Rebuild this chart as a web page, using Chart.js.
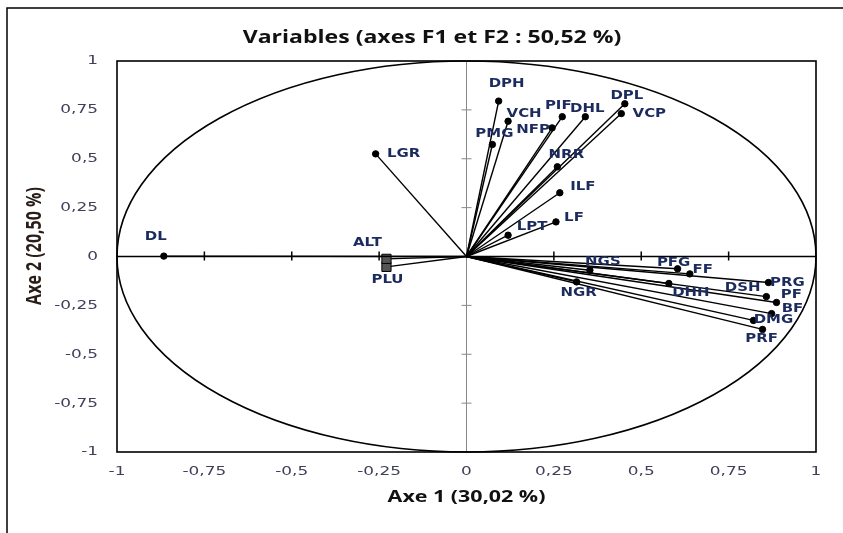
<!DOCTYPE html>
<html>
<head>
<meta charset="utf-8">
<script src="https://cdn.jsdelivr.net/npm/chart.js@4"></script>
<style>
  body { margin: 0; background: #fff; }
  #wrap { width: 843px; height: 533px; }
</style>
</head>
<body>
<div id="wrap"><canvas id="myChart" width="843" height="533"></canvas></div>
<script>
// variables du cercle des corrélations (F1, F2)
const names = ['DPH', 'VCH', 'PMG', 'NFP', 'PIF', 'DHL', 'DPL', 'VCP', 'NRR', 'ILF', 'LF', 'LPT',
  'LGR', 'DL', 'ALT', 'PLU', 'NGS', 'PFG', 'FF', 'NGR', 'DHH', 'PRG', 'PF', 'BF', 'DSH', 'DMG', 'PRF'];
const f1 = [0.092, 0.119, 0.074, 0.245, 0.274, 0.340, 0.453, 0.443, 0.260, 0.267, 0.256, 0.119,
  -0.260, -0.866, -0.229, -0.229, 0.353, 0.604, 0.639, 0.315, 0.579, 0.864, 0.858, 0.887, 0.873, 0.821, 0.847];
const f2 = [0.795, 0.692, 0.573, 0.658, 0.715, 0.715, 0.781, 0.731, 0.459, 0.326, 0.177, 0.109,
  0.525, 0.002, -0.012, -0.053, -0.070, -0.063, -0.089, -0.130, -0.138, -0.133, -0.205, -0.235, -0.292, -0.327, -0.373];
// variables supplémentaires (carrés)
const supp = ['ALT', 'PLU'];
// décalage des étiquettes (px)
const labelDx = [8, 16, 2, -19, -4, 2, 2, 28, 9, 23, 18, 24, 28, -8, -19, 1, 13, -4, 13, 2, 22, 19, 25, 16, -29, 20, -1];
const labelDy = [-17, -8, -11, 2, -11, -8, -8, 0, -12, -6, -4, -9, 0, -19, -16, 13, -9, -6, -4, 11, 9, 0, -2, 6, -26, -1, 9];
const ticks = [-1, -0.75, -0.5, -0.25, 0, 0.25, 0.5, 0.75, 1];

const fmt = v => String(v).replace('.', ',');

const datasets = names.map((n, i) => {
  const isSupp = supp.includes(n);
  return {
    label: n,
    data: [{x: 0, y: 0}, {x: f1[i], y: f2[i]}],
    showLine: true,
    borderColor: '#000',
    borderWidth: 1.4,
    pointRadius: [0, isSupp ? 6.5 : 3.2],
    pointStyle: isSupp ? 'rect' : 'circle',
    pointBackgroundColor: isSupp ? '#555' : '#000',
    pointBorderColor: '#000',
    pointBorderWidth: 1
  };
});

// texte étiré horizontalement (l'image d'origine est élargie)
function stretchText(ctx, txt, x, y, sx) {
  ctx.save();
  ctx.translate(x, y);
  ctx.scale(sx, 1);
  ctx.fillText(txt, 0, 0);
  ctx.restore();
}

const decor = {
  id: 'decor',
  beforeDraw(chart) {
    const ctx = chart.ctx;
    ctx.save();
    ctx.fillStyle = '#fff';
    ctx.fillRect(0, 0, chart.width, chart.height);
    // cadre extérieur
    ctx.strokeStyle = '#000';
    ctx.lineWidth = 1.5;
    ctx.beginPath();
    ctx.moveTo(7, chart.height);
    ctx.lineTo(7, 8);
    ctx.lineTo(chart.width, 8);
    ctx.stroke();
    ctx.restore();
  },
  beforeDatasetsDraw(chart) {
    const {ctx, chartArea: a, scales: {x, y}} = chart;
    const x0 = x.getPixelForValue(0), y0 = y.getPixelForValue(0);
    ctx.save();
    // axes
    ctx.strokeStyle = '#888';
    ctx.lineWidth = 1;
    ctx.beginPath();
    ctx.moveTo(x0, a.top); ctx.lineTo(x0, a.bottom);
    ctx.stroke();
    ctx.strokeStyle = '#000';
    ctx.lineWidth = 1.5;
    ctx.beginPath();
    ctx.moveTo(a.left, y0); ctx.lineTo(a.right, y0);
    ctx.stroke();
    // graduations
    ticks.forEach(t => {
      if (t === 0 || Math.abs(t) === 1) return;
      const px = x.getPixelForValue(t), py = y.getPixelForValue(t);
      ctx.strokeStyle = '#000';
      ctx.lineWidth = 1.5;
      ctx.beginPath(); ctx.moveTo(px, y0 - 5); ctx.lineTo(px, y0 + 4); ctx.stroke();
      ctx.strokeStyle = '#888';
      ctx.lineWidth = 1;
      ctx.beginPath(); ctx.moveTo(x0 - 5, py); ctx.lineTo(x0 + 5, py); ctx.stroke();
    });
    // cercle
    ctx.strokeStyle = '#000';
    ctx.lineWidth = 1.6;
    ctx.beginPath();
    ctx.ellipse(x0, y0, x.getPixelForValue(1) - x0, y0 - y.getPixelForValue(1), 0, 0, Math.PI * 2);
    ctx.stroke();
    ctx.restore();
  },
  afterDatasetsDraw(chart) {
    const {ctx, chartArea: a, scales: {x, y}} = chart;
    ctx.save();
    // cadre du graphique
    ctx.strokeStyle = '#000';
    ctx.lineWidth = 1.6;
    ctx.strokeRect(a.left, a.top, a.right - a.left, a.bottom - a.top);
    // libellés des graduations (valeurs des échelles)
    ctx.font = '13px "DejaVu Sans"';
    ctx.fillStyle = '#40405a';
    ctx.textBaseline = 'middle';
    ctx.textAlign = 'right';
    y.ticks.forEach(t => stretchText(ctx, fmt(t.value), a.left - 19, y.getPixelForValue(t.value), 1.3));
    ctx.textAlign = 'center';
    x.ticks.forEach(t => stretchText(ctx, fmt(t.value), x.getPixelForValue(t.value), a.bottom + 20, 1.3));
    // étiquettes
    ctx.font = 'bold 13px "DejaVu Sans"';
    ctx.fillStyle = '#1c2b5e';
    names.forEach((n, i) => {
      stretchText(ctx, n, x.getPixelForValue(f1[i]) + labelDx[i], y.getPixelForValue(f2[i]) + labelDy[i], 1.15);
    });
    // titres
    ctx.fillStyle = '#111';
    ctx.font = 'bold 18px "Open Sans"';
    stretchText(ctx, 'Variables (axes F1 et F2 : 50,52 %)', 432, 38, 1.28);
    ctx.font = 'bold 16px "Open Sans"';
    stretchText(ctx, 'Axe 1 (30,02 %)', x.getPixelForValue(0), 497, 1.34);
    ctx.translate(35, 246);
    ctx.rotate(-Math.PI / 2);
    ctx.font = 'bold 16px "Open Sans"';
    ctx.scale(1, 1.3);
    ctx.fillStyle = '#2a1d18';
    ctx.fillText('Axe 2 (20,50 %)', 0, 0);
    ctx.restore();
  }
};

const ctx = document.getElementById('myChart').getContext('2d');
const myChart = new Chart(ctx, {
  type: 'scatter',
  data: { datasets: datasets },
  options: {
    responsive: false,
    animation: false,
    layout: { padding: { top: 61, left: 0, right: 27, bottom: 0 } },
    plugins: { legend: { display: false }, tooltip: { enabled: false } },
    scales: {
      x: {
        min: -1, max: 1,
        afterFit: s => { s.height = 81; },
        afterBuildTicks: s => { s.ticks = ticks.map(v => ({value: v})); },
        grid: { display: false, drawTicks: false },
        border: { display: false },
        ticks: { display: false }
      },
      y: {
        min: -1, max: 1,
        afterFit: s => { s.width = 117; },
        afterBuildTicks: s => { s.ticks = ticks.map(v => ({value: v})); },
        grid: { display: false, drawTicks: false },
        border: { display: false },
        ticks: { display: false }
      }
    }
  },
  plugins: [decor]
});
</script>
</body>
</html>
